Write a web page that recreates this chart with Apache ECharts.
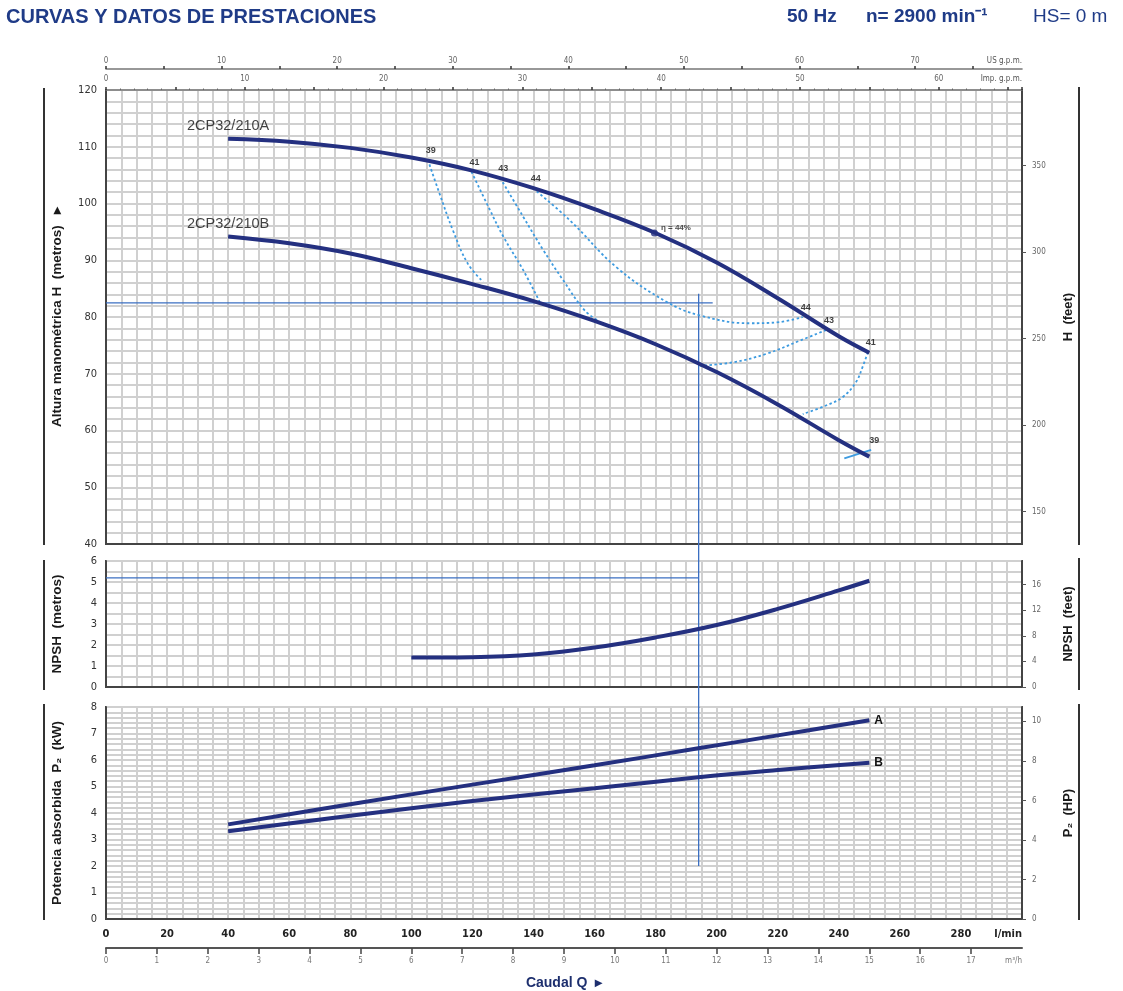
<!DOCTYPE html>
<html>
<head>
<meta charset="utf-8">
<title>CURVAS Y DATOS DE PRESTACIONES</title>
<script src="https://cdn.jsdelivr.net/npm/echarts@6/dist/echarts.min.js"></script>
<style>
html, body { margin: 0; padding: 0; background: #fff; }
#chart { width: 1123px; height: 991px; }
</style>
</head>
<body>
<div id="chart"></div>
<script>
// Q in l/min, H in m, NPSH in m, P2 in kW
var headA = [[40,111.4],[60,110.9],[80,109.8],[100,108.1],[120,105.8],[140,102.7],[160,99.0],[180,94.8],[200,89.6],[220,83.3],[240,76.6],[250,73.7]];
var headB = [[40,94.2],[60,93.0],[80,91.2],[100,88.6],[120,85.8],[140,82.8],[160,79.3],[180,75.2],[200,70.3],[220,64.6],[240,58.3],[250,55.4]];

// iso-efficiency lines (dashed)
var eff39L = [[105.4,107.7],[109.2,101.8],[113.6,95.3],[118.5,89.4],[123.5,86.2]];
var eff41L = [[119.7,105.6],[125.7,98.9],[130.1,94.2],[136.6,88.3],[142.0,82.7]];
var eff43L = [[129.1,104.5],[136.6,97.7],[143.2,91.8],[149.7,86.5],[156.7,81.2],[161.0,79.4]];
var eff44  = [[139.8,102.7],[151.8,97.1],[167.1,88.8],[183.5,82.7],[194.4,80.3],[210.7,78.9],[220.5,79.1],[228.2,80.0]];
var eff43R = [[194.4,71.4],[205.2,72.0],[216.2,73.5],[227.1,75.8],[235.8,77.7]];
var eff41R = [[249.5,73.8],[247.8,71.2],[245.6,68.5],[241.3,65.9],[235.8,64.4],[228.2,62.9]];
var eff39R = [[241.8,55.1],[250.6,56.6]];
var etaPoint = [179.6, 94.8];
var etaText = 'η = 44%';

var npsh = [[100,1.40],[120,1.42],[140,1.55],[160,1.88],[180,2.36],[200,2.95],[220,3.72],[240,4.60],[250,5.06]];

var powerA = [[40,3.57],[80,4.33],[120,5.07],[160,5.80],[194,6.44],[220,6.93],[250,7.50]];
var powerB = [[40,3.31],[80,3.90],[120,4.45],[160,4.93],[194,5.35],[220,5.62],[250,5.90]];

// duty point construction lines
var dutyQ = 194.1, dutyH = 82.5, dutyHLineEnd = 198.7, dutyVLineTop = 84.1;
var dutyNpsh = 5.2, dutyVLineBottom = 2.0;

var curveNames = ['2CP32/210A', '2CP32/210B'];
var powerNames = ['A', 'B'];
var feetTicks = [150, 200, 250, 300, 350];
var npshFeetTicks = [0, 4, 8, 12, 16];
var hpTicks = [0, 2, 4, 6, 8, 10];

var FT = 0.3048, HPKW = 0.7457, USG = 3.78541, IMPG = 4.54609, M3H = 1000 / 60;
var qMax = 300;

var NAVY = '#243080';
var DASH = '#3d9be0';
var DUTY = '#3b6fc2';
var GRIDC = '#d0d0d0';
var FRAME = '#444';
var HEAD = '#1f3b87';
var NARROW = "'Liberation Sans Narrow','DejaVu Sans Condensed','Liberation Sans',sans-serif";
var SANS = "'Liberation Sans',Arial,sans-serif";

var chart = echarts.init(document.getElementById('chart'));

function isMult(v, m) {
  var r = v / m;
  return Math.abs(r - Math.round(r)) < 1e-6;
}

function qAxis(grid, showLabel) {
  return {
    type: 'value', gridIndex: grid, position: 'bottom', min: 0, max: qMax, interval: 5,
    axisLine: { show: true, onZero: false, lineStyle: { color: FRAME, width: 2 } },
    axisTick: { show: false },
    axisLabel: showLabel ? {
      show: true, margin: 10, fontSize: 11, fontWeight: 'bold', color: '#222', fontFamily: NARROW,
      showMaxLabel: false,
      formatter: function (v) { return isMult(v, 20) && v < qMax ? String(v) : ''; }
    } : { show: false },
    splitLine: { show: true, lineStyle: { color: GRIDC, width: 2 } }
  };
}

function leftAxis(grid, min, max, step, name) {
  return {
    type: 'value', gridIndex: grid, position: 'left', min: min, max: max, interval: step,
    axisLine: { show: true, onZero: false, lineStyle: { color: FRAME, width: 2 } },
    axisTick: { show: false },
    axisLabel: {
      margin: 9, fontSize: 11, color: '#333', fontFamily: NARROW,
      formatter: function (v) { return isMult(v, grid === 0 ? 10 : 1) ? String(Math.round(v)) : ''; }
    },
    splitLine: { show: true, lineStyle: { color: GRIDC, width: 2 } },
    name: name, nameLocation: 'middle', nameRotate: 90, nameGap: 42,
    nameTextStyle: { fontSize: 13.5, fontWeight: 'bold', color: '#1a1a1a', fontFamily: SANS }
  };
}

function rightAxis(grid, min, max, ticks, name) {
  return {
    type: 'value', gridIndex: grid, position: 'right', min: min, max: max,
    axisLine: { show: true, onZero: false, lineStyle: { color: FRAME, width: 2 } },
    axisTick: { show: true, length: 4, customValues: ticks, lineStyle: { color: '#555' } },
    axisLabel: { margin: 10, fontSize: 8, color: '#666', fontFamily: NARROW, customValues: ticks },
    splitLine: { show: false },
    name: name, nameLocation: 'middle', nameRotate: 90, nameGap: 40,
    nameTextStyle: { fontSize: 13, fontWeight: 'bold', color: '#1a1a1a', fontFamily: SANS }
  };
}

function topAxis(offset, max, name, minor, margin) {
  return {
    type: 'value', gridIndex: 0, position: 'top', offset: offset, min: 0, max: max, interval: 5,
    axisLine: { show: true, onZero: false, lineStyle: { color: '#777', width: 1.6 } },
    axisTick: { show: true, length: 3, lineStyle: { color: '#333', width: 1.5 } },
    minorTick: { show: minor, splitNumber: 5, length: 1.5, lineStyle: { color: '#666' } },
    axisLabel: {
      margin: margin, fontSize: 8, color: '#666', fontFamily: NARROW, showMaxLabel: false,
      formatter: function (v) { return isMult(v, 10) ? String(v) : ''; }
    },
    splitLine: { show: false },
    name: name, nameLocation: 'end', nameGap: 0,
    nameTextStyle: { align: 'right', verticalAlign: 'bottom', padding: [0, 0, margin, 0], fontSize: 8, color: '#555', fontFamily: NARROW }
  };
}

function line(data, xi, yi, color, width, type, extra) {
  var s = {
    type: 'line', xAxisIndex: xi, yAxisIndex: yi, data: data, symbol: 'none',
    smooth: 0.4, silent: true, z: 3,
    lineStyle: { color: color, width: width, type: type }
  };
  for (var k in extra) s[k] = extra[k];
  return s;
}

var effLabelData = [
  { value: eff39L[0], t: '39' },
  { value: eff41L[0], t: '41' },
  { value: eff43L[0], t: '43' },
  { value: eff44[0], t: '44' },
  { value: eff44[eff44.length - 1], t: '44' },
  { value: eff43R[eff43R.length - 1], t: '43' },
  { value: eff41R[0], t: '41' },
  { value: eff39R[eff39R.length - 1], t: '39' }
].map(function (d) { return { value: d.value, name: d.t }; });

var option = {
  backgroundColor: '#fff',
  animation: false,
  grid: [
    { left: 106, right: 101, top: 90, height: 454, show: true, borderColor: FRAME, borderWidth: 2, backgroundColor: '#fff' },
    { left: 106, right: 101, top: 561, height: 126, show: true, borderColor: FRAME, borderWidth: 2, backgroundColor: '#fff' },
    { left: 106, right: 101, top: 707, height: 212, show: true, borderColor: FRAME, borderWidth: 2, backgroundColor: '#fff' }
  ],
  xAxis: [
    qAxis(0, false),
    topAxis(0, qMax / IMPG, 'Imp. g.p.m.', true, 7),
    topAxis(21, qMax / USG, 'US g.p.m.', false, 4),
    qAxis(1, false),
    (function () {
      var a = qAxis(2, true);
      a.name = 'l/min'; a.nameLocation = 'end'; a.nameGap = 0;
      a.nameTextStyle = { align: 'right', verticalAlign: 'top', padding: [10, 0, 0, 0], fontSize: 11, fontWeight: 'bold', color: '#222', fontFamily: NARROW };
      return a;
    })(),
    {
      type: 'value', gridIndex: 2, position: 'bottom', offset: 29, min: 0, max: qMax / M3H, interval: 1,
      axisLine: { show: true, onZero: false, lineStyle: { color: '#555', width: 2 } },
      axisTick: { show: true, inside: false, length: 6, lineStyle: { color: '#444', width: 1.5 } },
      axisLabel: { margin: 9, fontSize: 8, color: '#777', fontFamily: NARROW, showMaxLabel: false },
      splitLine: { show: false },
      name: 'm³/h', nameLocation: 'end', nameGap: 0,
      nameTextStyle: { align: 'right', verticalAlign: 'top', padding: [9, 0, 0, 0], fontSize: 8, color: '#777', fontFamily: NARROW }
    }
  ],
  yAxis: [
    leftAxis(0, 40, 120, 2, 'Altura manométrica H  (metros)   ▸'),
    rightAxis(0, 40 / FT, 120 / FT, feetTicks, 'H  (feet)'),
    leftAxis(1, 0, 6, 0.5, 'NPSH  (metros)'),
    rightAxis(1, 0, 6 / FT, npshFeetTicks, 'NPSH  (feet)'),
    leftAxis(2, 0, 8, 0.2, 'Potencia absorbida  P₂  (kW)'),
    rightAxis(2, 0, 8 / HPKW, hpTicks, 'P₂  (HP)')
  ],
  series: [
    line(eff39L, 0, 0, DASH, 1.8, [2.5, 2.5]),
    line(eff41L, 0, 0, DASH, 1.8, [2.5, 2.5]),
    line(eff43L, 0, 0, DASH, 1.8, [2.5, 2.5]),
    line(eff44, 0, 0, DASH, 1.8, [2.5, 2.5]),
    line(eff43R, 0, 0, DASH, 1.8, [2.5, 2.5]),
    line(eff41R, 0, 0, DASH, 1.8, [2.5, 2.5]),
    line(eff39R, 0, 0, DASH, 1.8, 'solid', { smooth: false }),
    line([[0, dutyH], [dutyHLineEnd, dutyH]], 0, 0, DUTY, 1.3, 'solid', { smooth: false, z: 2 }),
    line([[dutyQ, dutyVLineTop], [dutyQ, 37]], 0, 0, DUTY, 1.3, 'solid', { smooth: false, clip: false, z: 2 }),
    line(headA, 0, 0, NAVY, 4),
    line(headB, 0, 0, NAVY, 4),
    {
      type: 'scatter', xAxisIndex: 0, yAxisIndex: 0, silent: true, z: 5,
      data: [headA[0], headB[0]].map(function (p, i) { return { value: p, name: curveNames[i] }; }),
      symbolSize: 0,
      label: { show: true, position: 'top', distance: 5, formatter: '{b}', fontSize: 14.5, color: '#111', fontFamily: SANS }
    },
    {
      type: 'scatter', xAxisIndex: 0, yAxisIndex: 0, silent: true, z: 5,
      data: effLabelData, symbolSize: 0,
      label: { show: true, position: 'top', distance: 5, offset: [3, 0], formatter: '{b}', fontSize: 9, fontWeight: 'bold', color: '#111', fontFamily: SANS }
    },
    {
      type: 'scatter', xAxisIndex: 0, yAxisIndex: 0, silent: true, z: 6,
      data: [{ value: etaPoint, name: etaText }], symbol: 'circle', symbolSize: 7,
      itemStyle: { color: NAVY },
      label: { show: true, position: 'right', distance: 3, offset: [0, -5], formatter: '{b}', fontSize: 8, fontWeight: 'bold', color: '#222', fontFamily: SANS }
    },
    // NPSH panel
    line([[0, dutyNpsh], [dutyQ, dutyNpsh]], 3, 2, DUTY, 1.3, 'solid', { smooth: false, z: 2 }),
    line([[dutyQ, 6], [dutyQ, -1]], 3, 2, DUTY, 1.3, 'solid', { smooth: false, clip: false, z: 2 }),
    line(npsh, 3, 2, NAVY, 4),
    // power panel
    line([[dutyQ, 8], [dutyQ, dutyVLineBottom]], 4, 4, DUTY, 1.3, 'solid', { smooth: false, z: 2 }),
    line(powerA, 4, 4, NAVY, 4, 'solid', {
      endLabel: { show: true, formatter: powerNames[0], distance: 5, fontSize: 12, fontWeight: 'bold', color: '#111', fontFamily: SANS }
    }),
    line(powerB, 4, 4, NAVY, 4, 'solid', {
      endLabel: { show: true, formatter: powerNames[1], distance: 5, fontSize: 12, fontWeight: 'bold', color: '#111', fontFamily: SANS }
    })
  ],
  graphic: [
    { type: 'text', x: 6, y: 17, style: { text: 'CURVAS Y DATOS DE PRESTACIONES', fill: HEAD, font: 'bold 20px ' + SANS, verticalAlign: 'middle' } },
    { type: 'text', x: 787, y: 17, style: { text: '50 Hz', fill: HEAD, font: 'bold 19px ' + SANS, verticalAlign: 'middle' } },
    { type: 'text', x: 866, y: 17, style: { text: 'n= 2900 min⁻¹', fill: HEAD, font: 'bold 19px ' + SANS, verticalAlign: 'middle' } },
    { type: 'text', x: 1033, y: 17, style: { text: 'HS= 0 m', fill: HEAD, font: '19px ' + SANS, verticalAlign: 'middle' } },
    { type: 'text', x: 564, y: 983, style: { text: 'Caudal Q  ▸', fill: '#1d2f6e', font: 'bold 14px ' + SANS, align: 'center', verticalAlign: 'middle' } },
    // side separator bars
    { type: 'line', shape: { x1: 44, y1: 88, x2: 44, y2: 545 }, style: { stroke: '#333', lineWidth: 2 } },
    { type: 'line', shape: { x1: 44, y1: 560, x2: 44, y2: 690 }, style: { stroke: '#333', lineWidth: 2 } },
    { type: 'line', shape: { x1: 44, y1: 704, x2: 44, y2: 920 }, style: { stroke: '#333', lineWidth: 2 } },
    { type: 'line', shape: { x1: 1079, y1: 87, x2: 1079, y2: 545 }, style: { stroke: '#333', lineWidth: 2 } },
    { type: 'line', shape: { x1: 1079, y1: 558, x2: 1079, y2: 690 }, style: { stroke: '#333', lineWidth: 2 } },
    { type: 'line', shape: { x1: 1079, y1: 704, x2: 1079, y2: 920 }, style: { stroke: '#333', lineWidth: 2 } }
  ]
};

chart.setOption(option);

window.addEventListener('resize', function () {
  chart.resize();
});
</script>
</body>
</html>
